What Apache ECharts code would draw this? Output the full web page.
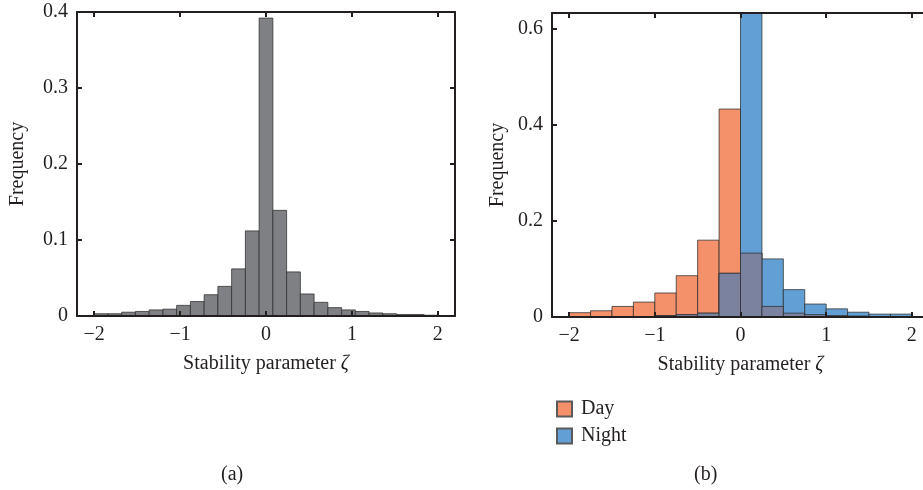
<!DOCTYPE html>
<html>
<head>
<meta charset="utf-8">
<script src="https://cdn.jsdelivr.net/npm/echarts@6/dist/echarts.min.js"></script>
<style>
  html, body { margin: 0; padding: 0; background: #fff; }
  #chart { width: 923px; height: 490px; }
</style>
</head>
<body>
<div id="chart"></div>
<script>
// ---- (a) all observations: bin edges and relative frequencies ----
const allEdges = [-2.00, -1.84, -1.68, -1.52, -1.36, -1.20, -1.04, -0.88, -0.72, -0.56,
                  -0.40, -0.24, -0.08, 0.08, 0.24, 0.40, 0.56, 0.72, 0.88, 1.04,
                  1.20, 1.36, 1.52, 1.68, 1.84, 2.00];
const allFreq = [0.003, 0.003, 0.005, 0.006, 0.008, 0.009, 0.014, 0.019, 0.028, 0.039,
                 0.062, 0.112, 0.392, 0.139, 0.058, 0.029, 0.018, 0.011, 0.008, 0.006,
                 0.004, 0.003, 0.002, 0.002, 0.001];

// ---- (b) day / night split ----
const splitEdges = [-2.00, -1.75, -1.50, -1.25, -1.00, -0.75, -0.50, -0.25, 0.00,
                    0.25, 0.50, 0.75, 1.00, 1.25, 1.50, 1.75, 2.00];
const dayFreq = [0.009, 0.013, 0.022, 0.031, 0.050, 0.086, 0.160, 0.433,
                 0.133, 0.022, 0.008, 0.005, 0.003, 0.002, 0.001, 0.001];
const nightFreq = [0.000, 0.000, 0.000, 0.001, 0.003, 0.005, 0.008, 0.091,
                   0.633, 0.121, 0.057, 0.027, 0.017, 0.010, 0.006, 0.006];

// ---- tick labels ----
const xTicks = [-2, -1, 0, 1, 2];
const yTicksA = [0, 0.1, 0.2, 0.3, 0.4];
const yTicksB = [0, 0.2, 0.4, 0.6];

const FONT = 'Liberation Serif';
const FS = 20;
const INK = '#231f20';
const EDGE = 'rgba(45,45,45,0.75)';

const fmtTick = v => (v < 0 ? '\u2212' + Math.abs(v) : String(v));

// histogram bars: each bin is a rectangle from its lower to upper edge
function histSeries(name, axisIdx, edges, values, fill, z) {
  return {
    type: 'custom',
    name: name,
    xAxisIndex: axisIdx,
    yAxisIndex: axisIdx,
    z: z,
    itemStyle: { color: fill, borderColor: '#5a5a5a', borderWidth: 1 },
    encode: { x: [0, 1], y: 2 },
    data: values.map((v, i) => [edges[i], edges[i + 1], v]),
    renderItem: function (params, api) {
      const v = api.value(2);
      if (v <= 0) return null;
      const p0 = api.coord([api.value(0), v]);
      const p1 = api.coord([api.value(1), 0]);
      return {
        type: 'rect',
        shape: { x: p0[0], y: p0[1], width: p1[0] - p0[0], height: p1[1] - p0[1] },
        style: { fill: fill, stroke: EDGE, lineWidth: 1 }
      };
    }
  };
}

// where day and night bins overlap, the shared part is drawn in a mixed tone
const overlapFreq = dayFreq.map((d, i) => Math.min(d, nightFreq[i]));

function frameX(gridIndex, min, max, bottom) {
  return {
    type: 'value', gridIndex: gridIndex, min: min, max: max,
    position: bottom ? 'bottom' : 'top',
    axisLine: { show: true, onZero: false, lineStyle: { color: INK, width: 2 } },
    axisTick: { show: true, inside: true, length: 5, lineStyle: { color: INK, width: 2 }, customValues: xTicks },
    axisLabel: bottom ? {
      show: true, customValues: xTicks, formatter: fmtTick, margin: 9,
      color: INK, fontFamily: FONT, fontSize: FS
    } : { show: false },
    splitLine: { show: false },
    z: 10
  };
}

function frameY(gridIndex, max, ticks, left, nameGap) {
  const ax = {
    type: 'value', gridIndex: gridIndex, min: 0, max: max,
    position: left ? 'left' : 'right',
    axisLine: { show: true, onZero: false, lineStyle: { color: INK, width: 2 } },
    axisTick: { show: true, inside: true, length: 5, lineStyle: { color: INK, width: 2 }, customValues: ticks },
    axisLabel: left ? {
      show: true, customValues: ticks, margin: 9,
      color: INK, fontFamily: FONT, fontSize: FS
    } : { show: false },
    splitLine: { show: false },
    z: 10
  };
  if (left) {
    ax.name = 'Frequency';
    ax.nameLocation = 'middle';
    ax.nameGap = nameGap;
    ax.nameTextStyle = { color: INK, fontFamily: FONT, fontSize: FS };
  }
  return ax;
}

function addXName(ax) {
  ax.name = 'Stability parameter {z|\u03b6}';
  ax.nameLocation = 'middle';
  ax.nameGap = 38;
  ax.nameTextStyle = {
    color: INK, fontFamily: FONT, fontSize: FS,
    rich: { z: { fontStyle: 'italic', fontFamily: FONT, fontSize: FS, color: INK } }
  };
  return ax;
}

const option = {
  animation: false,
  backgroundColor: '#ffffff',
  grid: [
    { left: 77, top: 12, width: 378, height: 304, outerBoundsMode: 'none' },
    { left: 552, top: 13, width: 377, height: 304, outerBoundsMode: 'none' }
  ],
  xAxis: [
    addXName(frameX(0, -2.2, 2.2, true)),
    frameX(0, -2.2, 2.2, false),
    addXName(frameX(1, -2.2, 2.2, true)),
    frameX(1, -2.2, 2.2, false)
  ],
  yAxis: [
    frameY(0, 0.4, yTicksA, true, 49),
    frameY(0, 0.4, yTicksA, false),
    frameY(1, 0.633, yTicksB, true, 44),
    frameY(1, 0.633, yTicksB, false)
  ],
  legend: {
    data: ['Day', 'Night'],
    orient: 'vertical',
    left: 551, top: 394,
    itemWidth: 15, itemHeight: 15, itemGap: 7,
    icon: 'rect',
    textStyle: { color: INK, fontFamily: FONT, fontSize: FS, padding: [0, 0, 0, 4] }
  },
  graphic: [
    { type: 'text', left: 221, top: 465, style: { text: '(a)', fill: INK, font: '20px "Liberation Serif"' } },
    { type: 'text', left: 694, top: 465, style: { text: '(b)', fill: INK, font: '20px "Liberation Serif"' } }
  ],
  series: [
    histSeries('All', 0, allEdges, allFreq, '#7f8084', 2),
    histSeries('Day', 2, splitEdges, dayFreq, '#f4906a', 2),
    histSeries('Night', 2, splitEdges, nightFreq, '#629fd4', 3),
    histSeries('Overlap', 2, splitEdges, overlapFreq, '#7a82a0', 4)
  ]
};

const chart = echarts.init(document.getElementById('chart'), null, { renderer: 'canvas' });
chart.setOption(option);
</script>
</body>
</html>
